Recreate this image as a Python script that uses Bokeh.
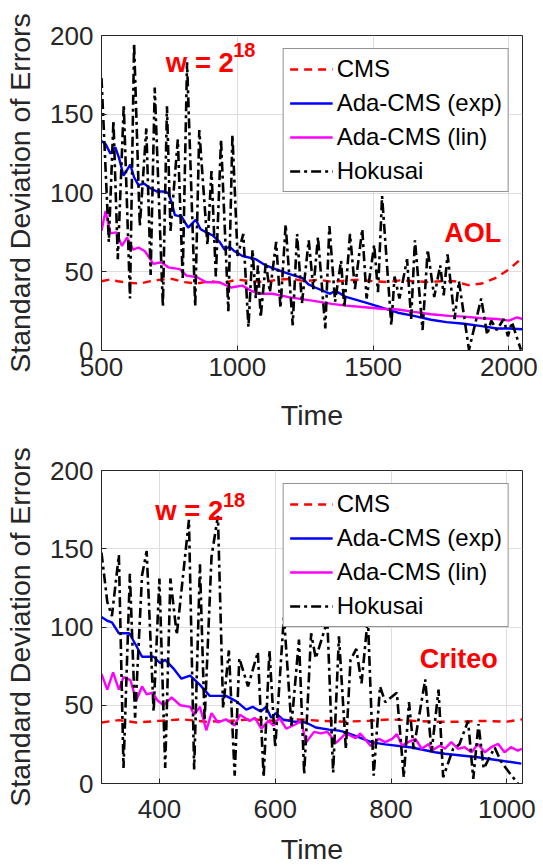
from bokeh.plotting import figure
from bokeh.layouts import column
from bokeh.models import Label, Legend, LegendItem, FixedTicker, Range1d
from bokeh.embed import file_html
from bokeh.resources import INLINE

FONT = "Liberation Sans"

# ---------------- AOL (top) data ----------------
aol_xticks = [500, 1000, 1500, 2000]
aol_yticks = [0, 50, 100, 150, 200]

aol_cms_t = [500, 530, 560, 600, 640, 680, 720, 760, 800, 850, 900, 950, 1000, 1050, 1100, 1150, 1200,
             1250, 1300, 1350, 1400, 1450, 1500, 1550, 1600, 1650, 1700, 1750, 1800, 1850, 1900, 1950, 2000, 2050]
aol_cms_v = [44, 45, 44, 43, 42.5, 44, 45, 45.5, 43.5, 42.5, 44, 43, 45, 44, 43.5, 45, 45.5, 44, 45, 43.5,
             44.5, 45, 44, 43.5, 44.5, 44, 43.5, 44, 44, 41.5, 42.5, 46, 51.5, 59]

aol_exp_t = [500, 515, 533, 551, 565, 581, 606, 620, 636, 656, 680, 703, 725, 746, 760, 770, 795, 819, 847,
             865, 886, 910, 935, 953, 971, 990, 1019, 1068, 1105, 1150, 1190, 1240, 1262, 1287, 1342, 1360,
             1400, 1470, 1518, 1591, 1650, 1713, 1770, 1835, 1900, 1956, 2000, 2050]
aol_exp_v = [133, 131, 125, 129, 122, 111, 118, 110, 105, 106, 103, 101, 101, 100, 93, 86, 85, 78, 83, 77,
             75, 73, 69, 64, 66, 63, 60, 58, 54, 51, 48.6, 46, 42, 40, 36, 38, 34, 30.5, 28, 24, 22, 19.5,
             18, 17, 15.5, 14, 14, 13.5]

aol_lin_t = [500, 515, 533, 555, 575, 594, 617, 636, 660, 691, 720, 746, 788, 813, 852, 886, 935, 977, 1019,
             1050, 1080, 1129, 1190, 1230, 1275, 1348, 1400, 1470, 1530, 1591, 1650, 1713, 1780, 1835, 1900,
             1956, 2000, 2030, 2050]
aol_lin_v = [76, 88.5, 74.4, 75, 66.4, 71.7, 64, 65.4, 63, 55, 56, 52.8, 51.7, 47.5, 46.5, 43.3, 43.3, 40,
             41.2, 38, 36, 36, 33.9, 32.8, 31.7, 29.6, 28.5, 27.5, 26.5, 26, 24.5, 23, 22, 21.5, 20.5, 20,
             19, 21, 20]

aol_hok_t = [500, 527, 544, 560, 582, 605, 620, 641, 665, 681, 696, 726, 741, 754, 781, 799, 815, 845, 860,
             890, 905, 921, 940, 967, 982, 1001, 1022, 1041, 1056, 1068, 1076, 1086, 1105, 1120, 1143, 1159,
             1178, 1204, 1220, 1238, 1263, 1280, 1297, 1324, 1339, 1360, 1382, 1394, 1415, 1433, 1460, 1476,
             1504, 1518, 1533, 1567, 1579, 1597, 1625, 1640, 1654, 1682, 1701, 1725, 1747, 1760, 1774, 1800,
             1816, 1853, 1898, 1920, 1935, 1955, 1981, 1996, 2011, 2044]
aol_hok_v = [173, 69, 146, 58, 156, 33, 195, 79, 141, 48, 167, 28, 155, 76, 134, 46, 183, 28, 140, 67, 114,
             47, 134, 25, 137, 60, 74, 15, 64, 33, 54, 21, 56, 37, 69, 27, 80, 16, 74, 30, 70, 39, 72, 14,
             79, 31, 57, 27, 74, 39, 77, 33, 67, 37, 98, 16, 47, 33, 58, 20, 70, 13, 64, 34, 54, 35, 61, 20,
             44, 0.5, 33, 10, 19, 13, 20, 9, 18, 0.5]

# ---------------- Criteo (bottom) data ----------------
cri_xticks = [400, 600, 800, 1000]
cri_yticks = [0, 50, 100, 150, 200]

cri_cms_t = [300, 330, 360, 400, 440, 480, 520, 560, 600, 640, 680, 720, 760, 800, 840, 880, 920, 960, 1000, 1027]
cri_cms_v = [39, 40.5, 39, 40, 41, 39.5, 40, 41, 40, 41, 40, 39.5, 40, 41, 40, 39.5, 39.5, 40, 39.5, 41]

cri_exp_t = [300, 310, 318, 330, 348, 360, 370, 390, 401, 410, 424, 438, 453, 470, 487, 515, 533, 550, 561,
             575, 584, 593, 601, 613, 630, 653, 670, 693, 710, 722, 745, 767, 790, 836, 876, 893, 950, 1007, 1025]
cri_exp_v = [106.3, 104, 103, 96, 96, 88, 81, 81, 77, 79, 73.6, 67, 69, 63, 56, 56, 52.5, 47.2, 49, 46, 49,
             42, 45, 41, 39.6, 39, 35.8, 34.4, 33.8, 32.7, 29.5, 26.3, 25, 23, 20, 19, 16.8, 13.7, 12.7]

cri_lin_t = [300, 310, 320, 330, 338, 350, 360, 370, 378, 388, 397, 407, 421, 436, 453, 460, 470, 481, 490,
             501, 515, 530, 539, 556, 565, 576, 588, 597, 607, 619, 636, 645, 653, 667, 679, 690, 705, 722,
             739, 747, 765, 779, 790, 802, 810, 819, 830, 842, 853, 865, 870, 885, 893, 904, 916, 927, 939,
             950, 962, 973, 985, 996, 1007, 1019, 1026]
cri_lin_v = [70, 60, 71, 60, 68, 66, 53, 62, 57, 58, 53, 50, 55, 50, 49, 44, 49, 34, 45, 39, 41, 37, 44, 40,
             42, 35, 40, 37, 42, 35, 38, 40, 26, 33, 32, 33, 26, 32, 29, 32, 24, 28.5, 26.4, 28.5, 31.6, 24.3,
             26.4, 28.5, 22.2, 25.3, 21, 24.3, 22.2, 26.4, 22.2, 23.2, 20, 25.3, 20, 23.2, 25.3, 20, 23.2, 21, 22.2]

cri_hok_t = [300, 310, 318, 330, 338, 349, 358, 370, 378, 390, 400, 410, 419, 430, 451, 460, 470, 478, 490,
             501, 510, 520, 530, 538, 553, 570, 580, 590, 600, 615, 628, 641, 650, 662, 670, 690, 700, 710,
             722, 730, 740, 749, 760, 770, 781, 790, 810, 822, 831, 839, 859, 870, 882, 890, 907, 918, 933,
             942, 951, 960, 979, 990, 1004, 1019]
cri_hok_v = [147.5, 116, 107, 146, 10, 134, 42, 133, 148.5, 46, 131, 10, 131, 95, 168.5, 9, 140, 40, 145,
             171, 48, 85, 5, 80, 62, 84, 4, 85, 23, 107, 37, 92, 6, 96, 80, 104, 7, 94, 22, 79, 86, 64, 106,
             5, 62, 52, 58, 4, 52, 22, 66.5, 20, 60, 4, 22, 25, 40, 3, 38, 9.5, 23, 14, 7, 0]

series_names = ["CMS", "Ada-CMS (exp)", "Ada-CMS (lin)", "Hokusai"]
TXT = "#262626"


def make_panel(height, borders, xrange, yrange, xticks, yticks, data, xstand, xlabstand, ystand, ylabstand):
    bl, br, bt, bb = borders
    p = figure(width=543, height=height, output_backend="svg", toolbar_location=None,
               x_range=Range1d(*xrange), y_range=Range1d(*yrange),
               min_border_left=bl, min_border_right=br, min_border_top=bt, min_border_bottom=bb,
               background_fill_color="white", border_fill_color="white")
    p.outline_line_color = TXT
    p.outline_line_width = 1
    p.xaxis.ticker = FixedTicker(ticks=xticks)
    p.yaxis.ticker = FixedTicker(ticks=yticks)
    p.xaxis.axis_label = "Time"
    p.yaxis.axis_label = "Standard Deviation of Errors"
    for ax in (p.xaxis, p.yaxis):
        ax.axis_label_text_font = FONT
        ax.axis_label_text_font_size = "28.5px"
        ax.axis_label_text_font_style = "normal"
        ax.axis_label_text_color = TXT
        ax.major_label_text_font = FONT
        ax.major_label_text_font_size = "26px"
        ax.major_label_text_color = TXT
        ax.axis_line_color = TXT
        ax.major_tick_line_color = TXT
        ax.major_tick_in = 5
        ax.major_tick_out = 0
        ax.minor_tick_line_color = None
    p.xaxis.major_label_standoff = xstand
    p.xaxis.axis_label_standoff = xlabstand
    p.yaxis.major_label_standoff = ystand
    p.yaxis.axis_label_standoff = ylabstand
    for g in (p.xgrid, p.ygrid):
        g.grid_line_color = "#dedede"
        g.grid_line_width = 1

    (ct, cv), (et, ev), (lt, lv), (ht, hv) = data
    r_cms = p.line(ct, cv, line_color="#ff0000", line_width=2.4, line_dash="8 6")
    r_exp = p.line(et, ev, line_color="#0000ff", line_width=2.4)
    r_lin = p.line(lt, lv, line_color="#ff00ff", line_width=2.4)
    r_hok = p.line(ht, hv, line_color="black", line_width=2.6, line_dash="10 4 3 4")

    legend = Legend(items=[LegendItem(label=n, renderers=[r]) for n, r in
                           zip(series_names, [r_cms, r_exp, r_lin, r_hok])],
                    location="top_right", margin=13, padding=6,
                    glyph_width=43, glyph_height=26, label_height=26, spacing=6,
                    label_standoff=4, label_text_font=FONT, label_text_font_size="24px",
                    label_text_color="black", border_line_color=TXT, border_line_width=1,
                    background_fill_color="white", background_fill_alpha=1.0)
    p.add_layout(legend)
    return p


p1 = make_panel(433, (101, 17, 35, 81), (500, 2050), (0, 200), aol_xticks, aol_yticks,
                [(aol_cms_t, aol_cms_v), (aol_exp_t, aol_exp_v), (aol_lin_t, aol_lin_v), (aol_hok_t, aol_hok_v)],
                7, 20, 8, 11)
p2 = make_panel(434, (98, 21, 37, 81), (300, 1027), (0, 200), cri_xticks, cri_yticks,
                [(cri_cms_t, cri_cms_v), (cri_exp_t, cri_exp_v), (cri_lin_t, cri_lin_v), (cri_hok_t, cri_hok_v)],
                16, 12, 8, 11)


def add_labels(p, wx, wy, sx, sy, name, nx, ny):
    common = dict(text_font=FONT, text_font_style="bold", text_color="#ff0000",
                  text_baseline="alphabetic", text_align="left")
    p.add_layout(Label(x=wx, y=wy, text="w = 2", text_font_size="27.5px", **common))
    p.add_layout(Label(x=sx, y=sy, text="18", text_font_size="20px", **common))
    p.add_layout(Label(x=nx, y=ny, text=name, text_font_size="27px", **common))


add_labels(p1, 737, 182.8, 985, 190.5, "AOL", 1762, 74.4)
add_labels(p2, 392.7, 174.4, 509.8, 181.2, "Criteo", 849.6, 79.5)

layout = column(p1, p2, spacing=0)
open("out.html", "w").write(file_html(layout, INLINE))
